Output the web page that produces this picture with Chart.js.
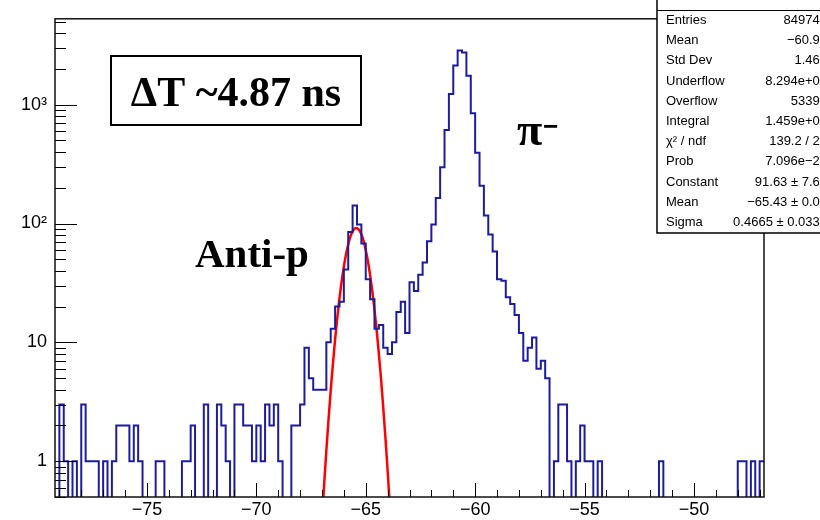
<!DOCTYPE html>
<html>
<head>
<meta charset="utf-8">
<script src="https://cdn.jsdelivr.net/npm/chart.js@4.4.1/dist/chart.umd.min.js"></script>
<style>
  html, body { margin: 0; padding: 0; background: #fff; }
</style>
</head>
<body>
<canvas id="myChart" width="820" height="520"></canvas>
<script>
// Time difference histogram: 162 bins of 0.2 ns, from -79.2 to -46.8
const xMin = -79.2;
const xMax = -46.8;
const binWidth = 0.2;
const yMin = 0.5;
const yMax = 5275;

// counts per bin (left to right)
const counts = [
  0, 3, 1, 0, 1, 0, 3, 1, 1, 1, 0, 1, 0, 1, 2, 2, 2, 1, 2, 1,
  0, 0, 0, 1, 1, 0, 0, 0, 0, 1, 1, 2, 0, 0, 3, 0, 0, 3, 2, 1,
  0, 3, 3, 2, 2, 1, 2, 1, 3, 2, 3, 1, 0, 0, 2, 2, 3, 9, 5, 4,
  4, 4, 10, 13, 20, 22, 41, 85, 142, 98, 68, 34, 23, 13, 14, 9, 8, 10, 18, 22,
  12, 32, 27, 37, 47, 71, 98, 164, 298, 613, 1229, 2133, 2853, 2747, 1747, 845, 394, 208, 117, 81,
  58, 34, 33, 24, 21, 17, 12, 7, 9, 11, 6, 7, 5, 0, 1, 3, 3, 1, 0, 1,
  2, 1, 1, 0, 1, 0, 0, 0, 0, 0, 0, 0, 0, 0, 0, 0, 0, 0, 1, 0,
  0, 0, 0, 0, 0, 0, 0, 0, 0, 0, 0, 0, 0, 0, 0, 0, 1, 1, 0, 1,
  0, 1
];

// gaussian fit curve (red)
const fitX = [-67.0, -66.9, -66.8, -66.7, -66.6, -66.5, -66.4, -66.3, -66.2, -66.1,
  -66.0, -65.9, -65.8, -65.7, -65.6, -65.5, -65.43, -65.4, -65.3, -65.2, -65.1,
  -65.0, -64.9, -64.8, -64.7, -64.6, -64.5, -64.4, -64.3, -64.2, -64.1, -64.0, -63.9];
const fitY = [0.32, 0.64, 1.23, 2.25, 3.95, 6.6, 10.6, 16.1, 23.5, 32.7,
  43.4, 55.2, 66.9, 77.5, 85.7, 90.6, 91.6, 91.4, 88.1, 81.1, 71.4,
  59.9, 48.1, 36.8, 26.9, 18.8, 12.6, 8.0, 4.9, 2.83, 1.57, 0.84, 0.42];

const xTicks = [-75, -70, -65, -60, -55, -50];
const yTicks = [1, 10, 100, 1000];
const yTickLabels = ["1", "10", "10\u00b2", "10\u00b3"];

const statNames = ["Entries", "Mean", "Std Dev", "Underflow", "Overflow", "Integral",
  "\u03c7\u00b2 / ndf", "Prob", "Constant", "Mean", "Sigma"];
const statValues = ["849743", "\u221260.93", "1.463", "8.294e+05", "53393", "1.459e+04",
  "139.2 / 20", "7.096e\u221220", "91.63 \u00b1 7.64", "\u221265.43 \u00b1 0.03", "0.4665 \u00b1 0.0333"];

// step outline: one point at the left edge of every bin, plus the right edge of the last one
const histPoints = counts.map((c, i) => ({ x: xMin + i * binWidth, y: c > 0 ? c : 0.05 }));
histPoints.push({ x: xMax, y: counts[counts.length - 1] > 0 ? counts[counts.length - 1] : 0.05 });
const fitPoints = fitX.map((x, i) => ({ x: x, y: fitY[i] }));

const rootStyle = {
  id: 'rootStyle',
  afterDraw(chart) {
    const ctx = chart.ctx;
    const { left, right, top, bottom } = chart.chartArea;
    const xs = chart.scales.x;
    const ys = chart.scales.y;
    ctx.save();

    // ticks drawn inside the frame, ROOT style
    ctx.strokeStyle = '#000';
    ctx.lineWidth = 1;
    ctx.beginPath();
    for (let v = Math.ceil(xMin); v <= xMax; v++) {
      const px = Math.round(xs.getPixelForValue(v)) + 0.5;
      const len = v % 5 === 0 ? 14 : 7;
      ctx.moveTo(px, bottom);
      ctx.lineTo(px, bottom - len);
    }
    [0.1, 1, 10, 100, 1000].forEach(dec => {
      for (let m = 1; m <= 9; m++) {
        const v = m * dec;
        if (v < yMin || v > yMax) continue;
        const py = Math.round(ys.getPixelForValue(v)) + 0.5;
        ctx.moveTo(left, py);
        ctx.lineTo(left + (m === 1 ? 22 : 11), py);
      }
    });
    ctx.stroke();

    // frame
    ctx.lineWidth = 1.5;
    ctx.strokeStyle = '#111';
    ctx.strokeRect(left, top, right - left, bottom - top);

    // stats box (cut off by the right border of the picture)
    const bx = 657, bTop = -2, bBottom = 233;
    ctx.fillStyle = '#fff';
    ctx.fillRect(bx, bTop, 200, bBottom - bTop);
    ctx.lineWidth = 1.5;
    ctx.strokeStyle = '#000';
    ctx.strokeRect(bx, bTop, 200, bBottom - bTop);
    ctx.lineWidth = 1;
    ctx.beginPath();
    ctx.moveTo(bx, 10.5);
    ctx.lineTo(820, 10.5);
    ctx.stroke();
    ctx.fillStyle = '#000';
    ctx.font = '13px "Liberation Sans", Arial, sans-serif';
    ctx.textBaseline = 'middle';
    statNames.forEach((name, i) => {
      const y = 20.5 + 20.2 * i;
      ctx.textAlign = 'left';
      ctx.fillText(name, 666, y);
      ctx.textAlign = 'right';
      ctx.fillText(statValues[i], 827, y);
    });

    // annotations
    ctx.lineWidth = 2;
    ctx.strokeRect(111, 56, 250, 69);
    ctx.font = 'bold 42px "Liberation Serif", "Times New Roman", serif';
    ctx.textAlign = 'center';
    ctx.textBaseline = 'alphabetic';
    ctx.fillText('\u0394T ~4.87 ns', 236, 106);
    ctx.textAlign = 'left';
    ctx.font = 'bold 41px "Liberation Serif", "Times New Roman", serif';
    ctx.fillText('Anti-p', 195, 267);
    ctx.font = 'bold 46px "Liberation Serif", "Times New Roman", serif';
    ctx.fillText('\u03c0', 517, 145);
    ctx.font = 'bold 26px "Liberation Sans", Arial, sans-serif';
    ctx.fillText('\u2212', 543, 135);
    ctx.restore();
  }
};

new Chart(document.getElementById('myChart').getContext('2d'), {
  type: 'line',
  data: {
    datasets: [
      {
        label: 'hist',
        data: histPoints,
        stepped: true,
        borderColor: '#1c1c9e',
        borderWidth: 2,
        pointRadius: 0,
        fill: false,
        clip: 0
      },
      {
        label: 'gaus fit',
        data: fitPoints,
        borderColor: '#ff0000',
        borderWidth: 2.5,
        pointRadius: 0,
        cubicInterpolationMode: 'monotone',
        fill: false,
        clip: 0
      }
    ]
  },
  options: {
    responsive: false,
    animation: false,
    layout: { padding: { top: 11, right: 56, left: 0, bottom: 0 } },
    plugins: { legend: { display: false }, tooltip: { enabled: false } },
    scales: {
      x: {
        type: 'linear',
        min: xMin,
        max: xMax,
        afterBuildTicks: s => { s.ticks = xTicks.map(v => ({ value: v })); },
        afterFit: s => { s.height = 23; },
        grid: { display: false, drawTicks: false },
        border: { display: false },
        ticks: {
          autoSkip: false,
          maxRotation: 0,
          padding: 2,
          color: '#000',
          font: { family: '"Liberation Sans", Arial, sans-serif', size: 18 },
          callback: v => String(v).replace('-', '\u2212')
        }
      },
      y: {
        type: 'logarithmic',
        min: yMin,
        max: yMax,
        afterBuildTicks: s => { s.ticks = yTicks.map(v => ({ value: v })); },
        afterFit: s => { s.width = 55; },
        grid: { display: false, drawTicks: false },
        border: { display: false },
        ticks: {
          padding: 8,
          color: '#000',
          font: { family: '"Liberation Sans", Arial, sans-serif', size: 18 },
          callback: v => yTickLabels[yTicks.indexOf(v)]
        }
      }
    }
  },
  plugins: [rootStyle]
});
</script>
</body>
</html>
